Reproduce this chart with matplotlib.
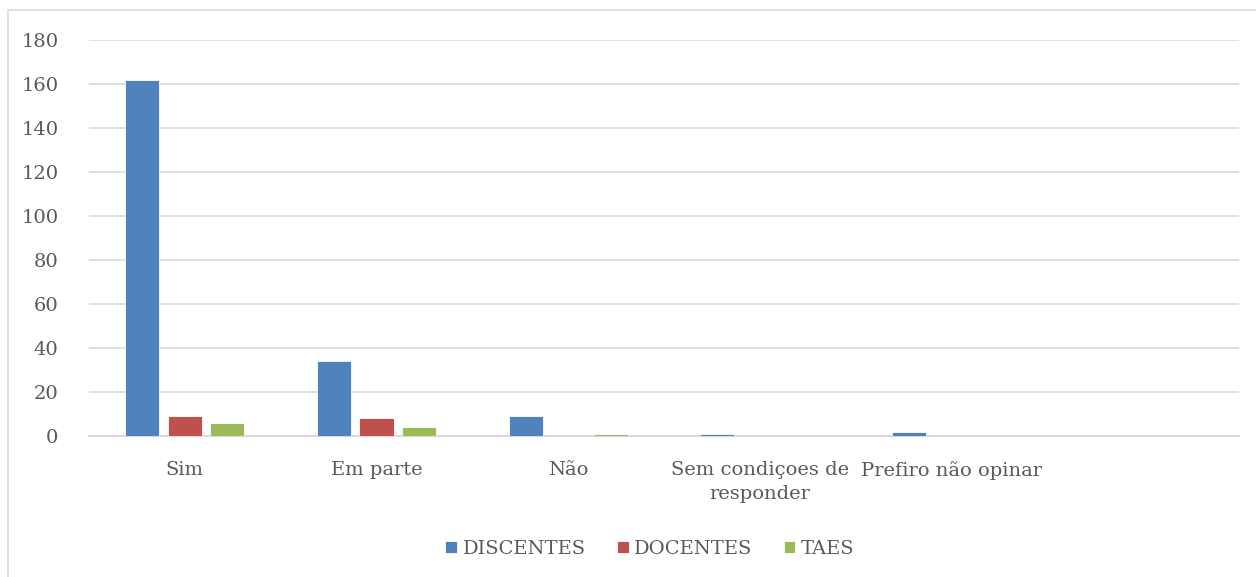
import matplotlib
matplotlib.use("Agg")
import matplotlib.pyplot as plt
import numpy as np
from matplotlib.patches import Rectangle

categories = ["Sim", "Em parte", "Não", "Sem condiçoes de\nresponder", "Prefiro não opinar", ""]
series_names = ["DISCENTES", "DOCENTES", "TAES"]
discentes = [162, 34, 9, 1, 2, 0]
docentes = [9, 8, 0, 0, 0, 0]
taes = [6, 4, 1, 0, 0, 0]
colors = ["#4F81BD", "#C0504D", "#9BBB59"]
yticks = [0, 20, 40, 60, 80, 100, 120, 140, 160, 180]

plt.rcParams['font.family'] = ['DejaVu Serif']
fs = 14
tc = "#595959"

fig = plt.figure(figsize=(12.56, 5.77), dpi=100)
W, H = 1256, 577
ax = fig.add_axes([89 / W, 1 - 436 / H, (1239 - 89) / W, (436 - 40) / H])

x = np.arange(len(categories))
bw = 0.178
step = 0.222
for i, (vals, name, c) in enumerate(zip([discentes, docentes, taes], series_names, colors)):
    ax.bar(x + (i - 1) * step, vals, width=bw, color=c, label=name, zorder=3,
           edgecolor="white", linewidth=0.6)

ax.set_xlim(-0.5, len(categories) - 0.5)
ax.set_ylim(0, 180)
ax.set_yticks(yticks)
ax.set_yticklabels([str(v) for v in yticks], fontsize=fs, color=tc)
ax.set_xticks(x)
ax.set_xticklabels(categories, fontsize=fs, color=tc, linespacing=1.45)
ax.tick_params(axis='both', length=0)
ax.tick_params(axis='y', pad=22)
ax.tick_params(axis='x', pad=18)
ax.grid(axis='y', color="#D9D9D9", linewidth=1.2, zorder=0)
for s in ["top", "right", "left"]:
    ax.spines[s].set_visible(False)
ax.spines["bottom"].set_color("#D9D9D9")
ax.spines["bottom"].set_linewidth(1.5)

leg = fig.legend(loc="center", bbox_to_anchor=(650 / W, 1 - 549 / H), ncol=3, frameon=False,
                 fontsize=fs, handlelength=0.6, handleheight=0.6, handletextpad=0.3,
                 columnspacing=1.6)
for t in leg.get_texts():
    t.set_color(tc)

fig.patches.append(Rectangle((8 / W, -0.1), 1.2, 1 - 10 / H + 0.1, transform=fig.transFigure,
                             fill=False, edgecolor="#D9D9D9", linewidth=1.2))

fig.savefig("out.png", dpi=100)
